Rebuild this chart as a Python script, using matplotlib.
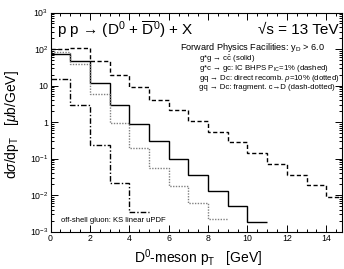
import numpy as np
import matplotlib
matplotlib.use('Agg')
import matplotlib.pyplot as plt
from matplotlib.ticker import FixedLocator, FixedFormatter, MultipleLocator, LogLocator, NullFormatter

plt.rcParams['font.family'] = ['Liberation Sans', 'DejaVu Sans']
plt.rcParams['mathtext.fontset'] = 'custom'
plt.rcParams['mathtext.rm'] = 'Liberation Sans'
plt.rcParams['mathtext.it'] = 'Liberation Sans:italic'
plt.rcParams['mathtext.sf'] = 'Liberation Sans'

# D0 pT spectra, 1 GeV bins (ub/GeV)
solid = [75, 46, 12, 3.0, 0.87, 0.30, 0.10, 0.035, 0.013, 0.005, 0.0018]
dashed = [100, 105, 48, 19.5, 9.1, 4.0, 2.1, 1.07, 0.54, 0.28, 0.14, 0.069, 0.035, 0.019, 0.009]
dotted = [85, 39, 5.8, 0.94, 0.20, 0.054, 0.018, 0.006, 0.0022]
dashdot = [15, 2.9, 0.23, 0.022, 0.0034]

ytick_vals = [1e-3, 1e-2, 1e-1, 1, 10, 1e2, 1e3]
ytick_labels = ['$10^{-3}$', '$10^{-2}$', '$10^{-1}$', '1', '10', '$10^{2}$', '$10^{3}$']

W, H = 344, 269
fig = plt.figure(figsize=(W / 100, H / 100), dpi=100)
ax = fig.add_axes([50.5 / W, 1 - 231.5 / H, (342 - 50.5) / W, (231.5 - 12.5) / H])


def edges(v):
    return np.arange(len(v) + 1, dtype=float)


ax.stairs(solid, edges(solid), baseline=None, color='black', lw=1.0)
ax.stairs(dashed, edges(dashed), baseline=None, color='black', lw=1.0,
          linestyle=(0, (3, 1.8)))
ax.stairs(dotted, edges(dotted), baseline=None, color='0.5', lw=1.0,
          linestyle=(0, (1, 1)))
ax.stairs(dashdot, edges(dashdot), baseline=None, color='black', lw=1.0,
          linestyle=(0, (4, 1.5, 1, 1.5)))

ax.set_yscale('log')
ax.set_ylim(1e-3, 1e3)
ax.set_xlim(0, 14.8)

ax.yaxis.set_major_locator(FixedLocator(ytick_vals))
ax.yaxis.set_major_formatter(FixedFormatter(ytick_labels))
ax.yaxis.set_minor_locator(LogLocator(base=10, subs=np.arange(2, 10)))
ax.yaxis.set_minor_formatter(NullFormatter())
ax.xaxis.set_major_locator(MultipleLocator(2))
ax.xaxis.set_minor_locator(MultipleLocator(0.5))

ax.tick_params(which='both', direction='in', top=True, right=True, width=0.7)
ax.tick_params(which='major', length=5, labelsize=6.3, pad=1.5)
ax.tick_params(which='minor', length=2.5)
for s in ax.spines.values():
    s.set_linewidth(0.8)

# text
def ftext(x, y, s, **kw):
    fig.text(x / W, 1 - y / H, s, **kw)


ftext(57, 30, r'p p → (D$^0$ + $\overline{\mathrm{D}}^0$) + X', fontsize=11, va='center')
ftext(339, 30, '√s = 13 TeV', fontsize=11, va='center', ha='right')
ftext(180, 48, r'Forward Physics Facilities: y$_\mathrm{D}$ > 6.0', fontsize=6.6, va='center')
legend_lines = [
    r'g*g → c$\bar{\mathrm{c}}$ (solid)',
    r'g*c → gc: IC BHPS P$_\mathrm{IC}$=1% (dashed)',
    r'gq → Dc: direct recomb. $\rho$=10% (dotted)',
    'gq → Dc: fragment. c→D (dash-dotted)',
]
for i, s in enumerate(legend_lines):
    ftext(199, 59.5 + 9.4 * i, s, fontsize=5.6, va='center')
ftext(61, 220, 'off-shell gluon: KS linear uPDF', fontsize=5.5, va='center')

ftext(198, 258, r'D$^0$-meson p$_\mathrm{T}$   [GeV]', fontsize=10, va='center', ha='center')
fig.text(12 / W, 1 - 125 / H, r'd$\sigma$/dp$_\mathrm{T}$   [$\mu$b/GeV]', fontsize=10,
         va='center', ha='center', rotation=90)

fig.savefig('out.png', dpi=100)
